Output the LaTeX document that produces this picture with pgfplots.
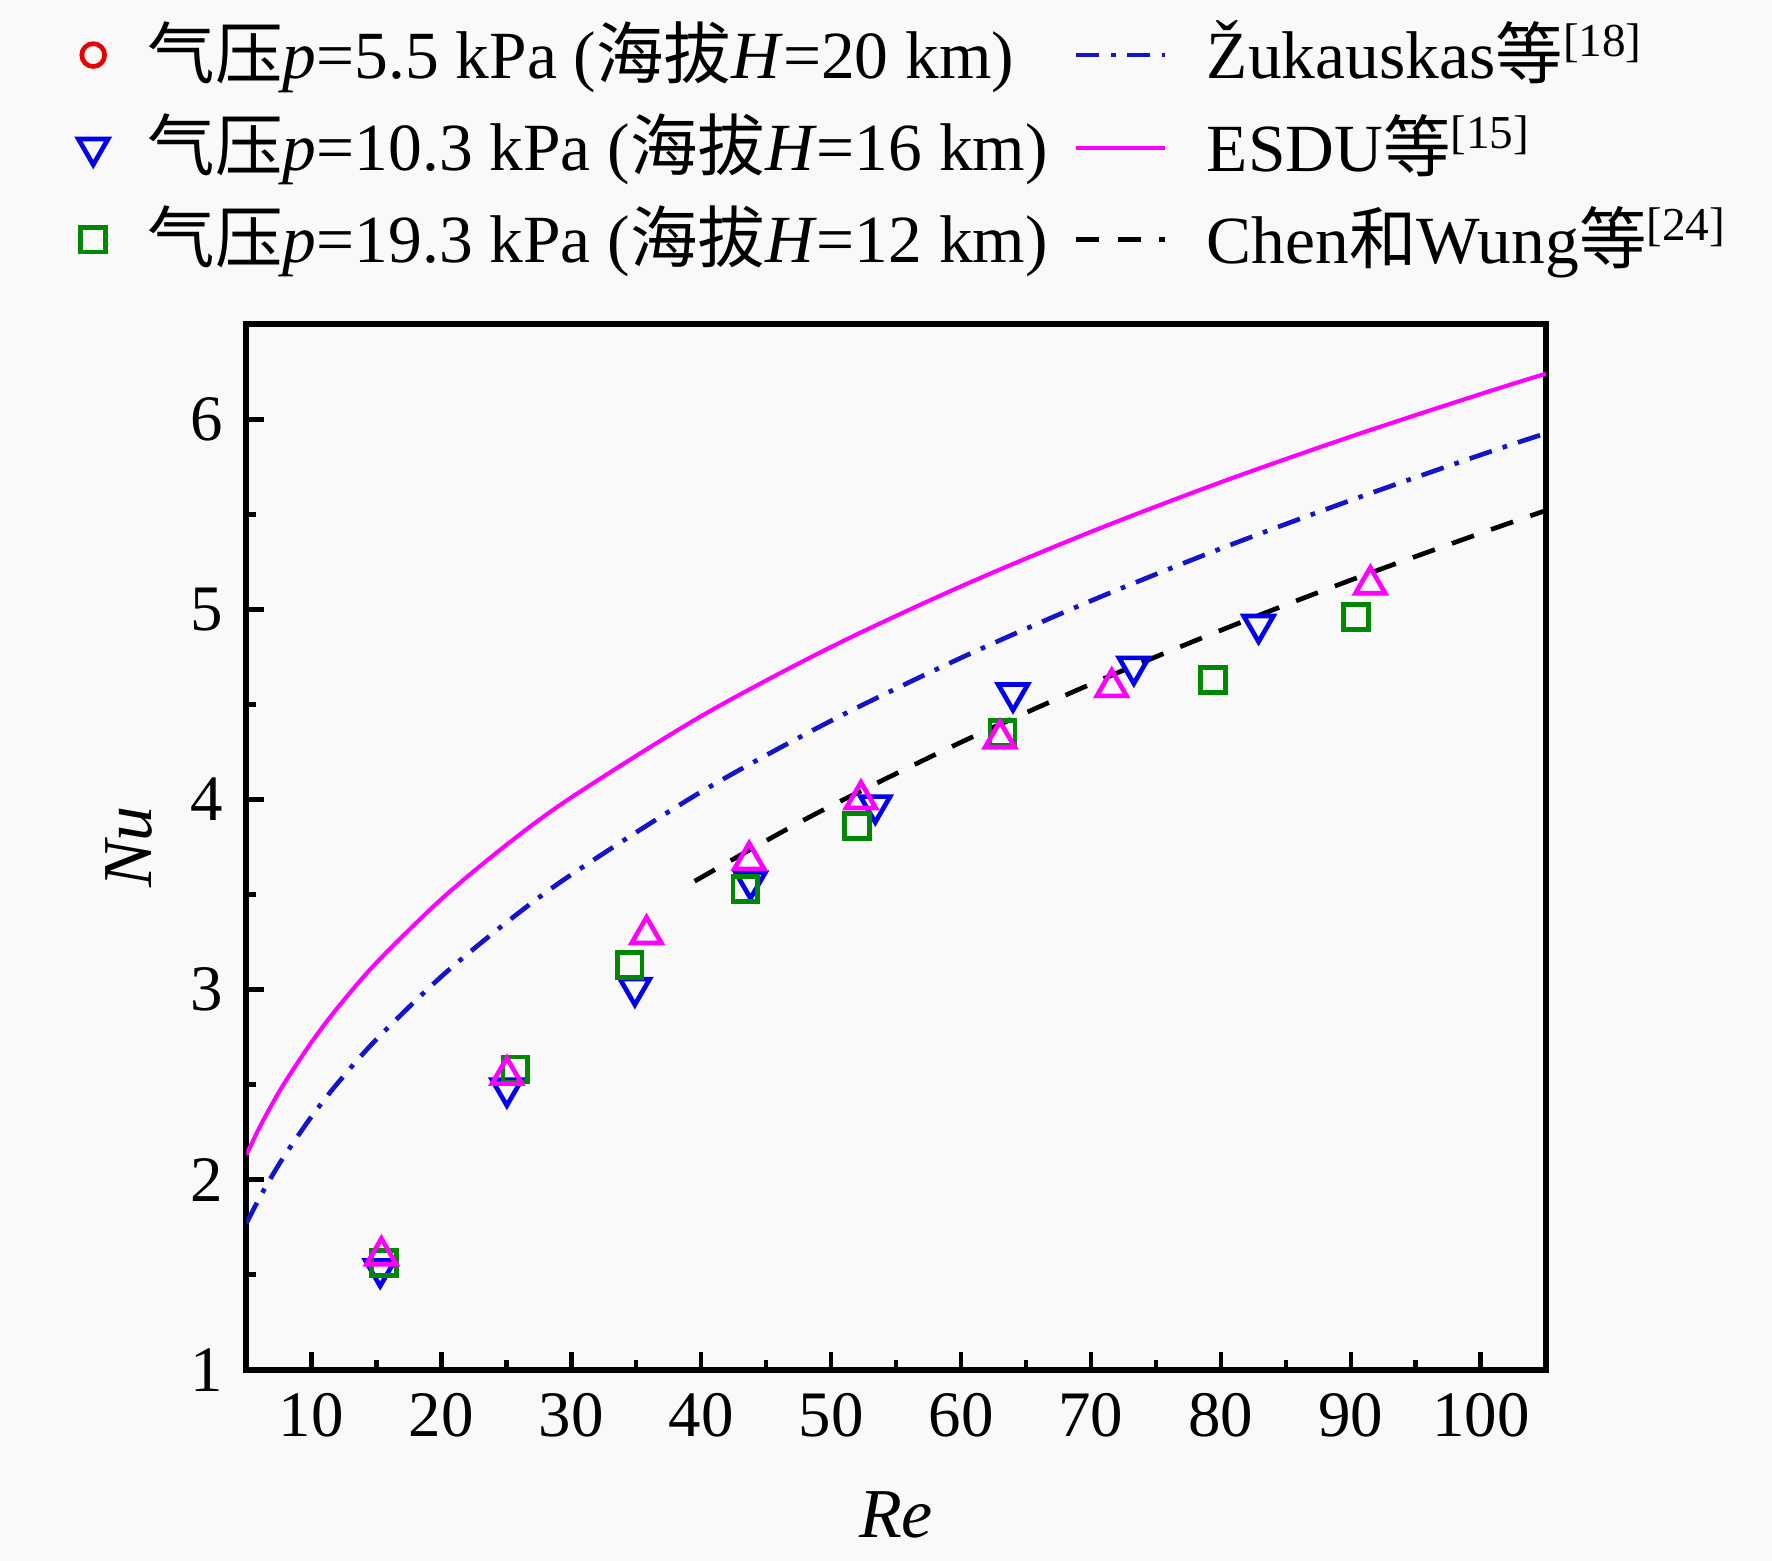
\documentclass[border=0pt]{standalone}
\usepackage{pgfplots}
\pgfplotsset{compat=1.18}
\usepackage{fontspec}
\setmainfont{Liberation Serif}
\newfontfamily\cjk{Noto Sans CJK SC}
\definecolor{cblue}{RGB}{0,0,235}
\definecolor{cgreen}{RGB}{0,135,0}
\definecolor{cmag}{RGB}{255,0,255}
\definecolor{cred}{RGB}{230,0,0}
\definecolor{cnavy}{RGB}{20,20,200}
\definecolor{bg}{RGB}{249,249,249}
\begin{document}
\fontsize{13}{15.6}\selectfont
\begin{tikzpicture}
\fill[bg] (-1.668cm,-1.293cm) rectangle (10.332cm,9.276cm);
\begin{axis}[
  width=8.80cm, height=7.08cm, scale only axis,
  xmin=5, xmax=105, ymin=1, ymax=6.5,
  xtick={10,20,...,100}, ytick={1,2,...,6},
  minor xtick={15,25,...,95}, minor ytick={1.5,2.5,...,5.5},
  tick pos=left, tick align=inside,
  major tick length=0.12cm, minor tick length=0.065cm,
  axis line style={line width=1.1pt},
  every tick/.style={black, line width=0.9pt},
  /pgf/number format/assume math mode=true,
  ticklabel style={font=\fontsize{12.5}{14}\selectfont},
  xlabel={\textit{Re}}, ylabel={\textit{Nu}},
  label style={font=\fontsize{13.5}{16}\selectfont},
  xlabel style={at={(axis description cs:0.5,-0.139)}, anchor=center},
  ylabel style={at={(axis description cs:-0.09,0.5)}, anchor=center},
  legend columns=2, legend cell align=left,
  legend style={draw=none, fill=none, at={(-0.142,1.028)}, anchor=south west,
    font=\fontsize{13}{15.6}\selectfont, row sep=0.8pt,
    /tikz/every odd column/.append style={column sep=0.2cm},
    /tikz/every even column/.append style={column sep=0.105cm}},
]
% p=10.3 kPa (down triangles)
\addplot[forget plot, only marks, cblue, mark=triangle, mark size=3.3pt,
  mark options={rotate=180, line width=0.9pt}] coordinates {
  (15.3,1.53) (25.05,2.48) (34.9,3.01) (43.8,3.57) (53.4,3.97)
  (64.0,4.56) (73.3,4.70) (82.9,4.92)};
% p=19.3 kPa (squares)
\addplot[forget plot, only marks, cgreen, mark=square, mark size=2.4pt,
  mark options={line width=0.9pt}] coordinates {
  (15.6,1.56) (25.7,2.58) (34.5,3.13) (43.4,3.53) (52.0,3.86)
  (63.2,4.35) (79.4,4.63) (90.4,4.96)};
% magenta up triangles
\addplot[forget plot, only marks, cmag, mark=triangle, mark size=3.3pt,
  mark options={line width=0.9pt}] coordinates {
  (15.4,1.60) (25.05,2.55) (35.8,3.29) (43.7,3.68) (52.3,4.00)
  (63.0,4.32) (71.6,4.59) (91.5,5.13)};
% ESDU
\addplot[forget plot, cmag, line width=0.8pt, smooth] coordinates {
  (5,2.130) (6,2.272) (7,2.399) (8,2.515) (10,2.721) (12,2.902) (15,3.140)
  (20,3.475) (25,3.760) (30,4.010) (40,4.438) (50,4.802) (60,5.121)
  (70,5.408) (80,5.669) (90,5.909) (100,6.133) (105,6.240)};
% Zukauskas
\addplot[forget plot, cnavy, line width=0.9pt, smooth,
  dash pattern=on 4.5pt off 2.2pt on 0.9pt off 2.2pt] coordinates {
  (5,1.769) (6,1.902) (7,2.022) (8,2.132) (10,2.330) (12,2.505) (15,2.737)
  (20,3.068) (25,3.352) (30,3.604) (40,4.040) (50,4.414) (60,4.745)
  (70,5.045) (80,5.320) (90,5.574) (100,5.813) (105,5.926)};
% Chen and Wung
\addplot[forget plot, black, line width=0.9pt, smooth,
  dash pattern=on 4.5pt off 3.5pt] coordinates {
  (39.5,3.570) (45,3.783) (50,3.966) (60,4.301) (70,4.607) (80,4.890)
  (90,5.154) (100,5.401) (105,5.520)};
% legend
\addlegendimage{only marks, mark=o, mark size=2.2pt, cred, mark options={line width=0.9pt}}
\addlegendentry{{\cjk 气压}\textit{p}=5.5 kPa ({\cjk 海拔}\textit{H}=20 km)}
\addlegendimage{cnavy, line width=0.9pt, dash pattern=on 4.5pt off 2.2pt on 0.9pt off 2.2pt}
\addlegendentry{Žukauskas{\cjk 等}\textsuperscript{[18]}}
\addlegendimage{only marks, mark=triangle, mark size=3.3pt, cblue, mark options={rotate=180, line width=0.9pt}}
\addlegendentry{{\cjk 气压}\textit{p}=10.3 kPa ({\cjk 海拔}\textit{H}=16 km)}
\addlegendimage{cmag, line width=0.8pt}
\addlegendentry{ESDU{\cjk 等}\textsuperscript{[15]}}
\addlegendimage{only marks, mark=square, mark size=2.4pt, cgreen, mark options={line width=0.9pt}}
\addlegendentry{{\cjk 气压}\textit{p}=19.3 kPa ({\cjk 海拔}\textit{H}=12 km)}
\addlegendimage{black, line width=0.9pt, dash pattern=on 4.5pt off 3.5pt}
\addlegendentry{Chen{\cjk 和}Wung{\cjk 等}\textsuperscript{[24]}}
\end{axis}
\end{tikzpicture}
\end{document}
